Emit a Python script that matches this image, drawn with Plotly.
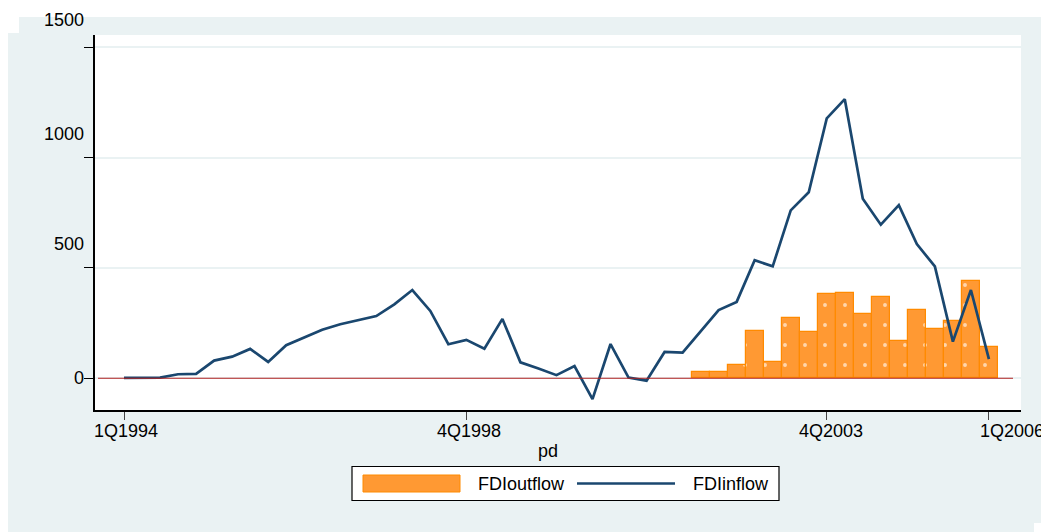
import plotly.graph_objects as go

# quarterly series, 1Q1994 .. 1Q2006
fdi_inflow = [2, 3, 3, 18, 20, 80, 98, 133, 74, 150,
              184, 220, 245, 264, 282, 335, 400, 305, 154, 174,
              134, 269, 72, 44, 14, 55, -95, 155, 3, -11,
              119, 116, 212, 309, 346, 535, 507, 761, 843, 1178,
              1265, 814, 696, 785, 608, 507, 166, 400, 87]
# outflow only reported from 1Q2002 (period 32) on
fdi_outflow = [27, 27, 59, 213, 74, 275, 210, 382, 385, 291,
               367, 169, 309, 223, 260, 441, 140]
outflow_start = 32

x_ticks = [0, 19, 39, 48]
x_labels = ["1Q1994", "4Q1998", "4Q2003", "1Q2006"]
y_ticks = [0, 500, 1000, 1500]
y_labels = ["0", "500", "1000", "1500"]

periods = list(range(len(fdi_inflow)))
out_periods = periods[outflow_start:outflow_start + len(fdi_outflow)]

# the page puts the figure 8px in from the top-left corner
OFF = 8
PAGE_W, PAGE_H = 1049, 532
W, H = PAGE_W - OFF, PAGE_H - OFF
# plot area in page pixels
L, R, T, B = 95, 1021, 35, 410


def px(x):
    return (x - L) / (R - L)


def py(y):
    return (B - y) / (B - T)


BG = "#EAF2F3"
NAVY = "#1A476F"
ORANGE = "#FF9933"
ORANGE_EDGE = "#FF8A00"
FONT = "Liberation Sans, Arial, sans-serif"

fig = go.Figure()
fig.add_trace(go.Bar(
    x=out_periods, y=fdi_outflow, name="FDIoutflow", width=1.0,
    marker=dict(color=ORANGE, line=dict(color=ORANGE_EDGE, width=1.2),
                pattern=dict(shape=".", fillmode="overlay", fgcolor="white",
                             fgopacity=0.6, size=20, solidity=0.03)),
))
fig.add_trace(go.Scatter(
    x=periods, y=fdi_inflow, name="FDIinflow", mode="lines",
    line=dict(color=NAVY, width=2.7),
))

shapes = []
# white page areas around the graph region
shapes.append(dict(type="rect", xref="paper", yref="paper", x0=px(-5), x1=px(PAGE_W + 5),
                   y0=py(17), y1=py(-5), fillcolor="white", line_width=0, layer="below"))
shapes.append(dict(type="rect", xref="paper", yref="paper", x0=px(-5), x1=px(19),
                   y0=py(33), y1=py(16), fillcolor="white", line_width=0, layer="below"))
shapes.append(dict(type="rect", xref="paper", yref="paper", x0=px(1034), x1=px(PAGE_W + 5),
                   y0=py(PAGE_H + 5), y1=py(523), fillcolor="white", line_width=0, layer="below"))
# zero reference line
shapes.append(dict(type="line", xref="paper", yref="y", x0=px(98), x1=px(1013),
                   y0=0, y1=0, line=dict(color="#B22222", width=1.2)))
# legend box
shapes.append(dict(type="rect", xref="paper", yref="paper", x0=px(352), x1=px(779),
                   y0=py(500.5), y1=py(466.5), fillcolor="white",
                   line=dict(color="black", width=1.2)))
shapes.append(dict(type="rect", xref="paper", yref="paper", x0=px(363), x1=px(460),
                   y0=py(492), y1=py(475), fillcolor=ORANGE,
                   line=dict(color=ORANGE_EDGE, width=1)))
shapes.append(dict(type="line", xref="paper", yref="paper", x0=px(577), x1=px(675),
                   y0=py(483.5), y1=py(483.5), line=dict(color=NAVY, width=2.7)))

annotations = []
y_shift = {0: 0, 500: 24, 1000: 24, 1500: 27}
for v, lab in zip(y_ticks, y_labels):
    annotations.append(dict(xref="paper", yref="y", x=px(86), y=v, text=lab,
                            xanchor="right", yanchor="middle", showarrow=False,
                            yshift=y_shift[v], font=dict(size=18, color="black")))
x_shift = {0: 2, 19: 3, 39: 4, 48: 23}
for v, lab in zip(x_ticks, x_labels):
    annotations.append(dict(xref="x", yref="paper", x=v, y=py(431), text=lab,
                            xanchor="center", yanchor="middle", showarrow=False,
                            xshift=x_shift[v], font=dict(size=18, color="black")))
annotations.append(dict(xref="paper", yref="paper", x=px(548), y=py(451), text="pd",
                        xanchor="center", yanchor="middle", showarrow=False,
                        font=dict(size=18, color="black")))
annotations.append(dict(xref="paper", yref="paper", x=px(476), y=py(484.5), text="FDIoutflow",
                        xanchor="left", yanchor="middle", showarrow=False,
                        font=dict(size=18, color="black")))
annotations.append(dict(xref="paper", yref="paper", x=px(691), y=py(484.5), text="FDIinflow",
                        xanchor="left", yanchor="middle", showarrow=False,
                        font=dict(size=18, color="black")))

fig.update_layout(
    width=W, height=H,
    margin=dict(l=L - OFF, r=PAGE_W - R, t=T - OFF, b=PAGE_H - B, pad=0),
    paper_bgcolor=BG, plot_bgcolor="white",
    font=dict(family=FONT, size=18, color="black"),
    showlegend=False, bargap=0,
    shapes=shapes, annotations=annotations,
)
fig.update_xaxes(
    range=[-1.61, 49.78], tickvals=x_ticks, showticklabels=False,
    ticks="outside", ticklen=8, tickcolor="#444", tickwidth=1.3,
    showline=True, linecolor="black", linewidth=1.5,
    showgrid=False, zeroline=False,
)
fig.update_yaxes(
    range=[-144, 1556], tickvals=y_ticks, showticklabels=False,
    ticks="outside", ticklen=9, tickcolor="black", tickwidth=1.3,
    showline=True, linecolor="black", linewidth=1.5,
    showgrid=True, gridcolor=BG, gridwidth=2, zeroline=False,
)

fig.write_html("out.html")
